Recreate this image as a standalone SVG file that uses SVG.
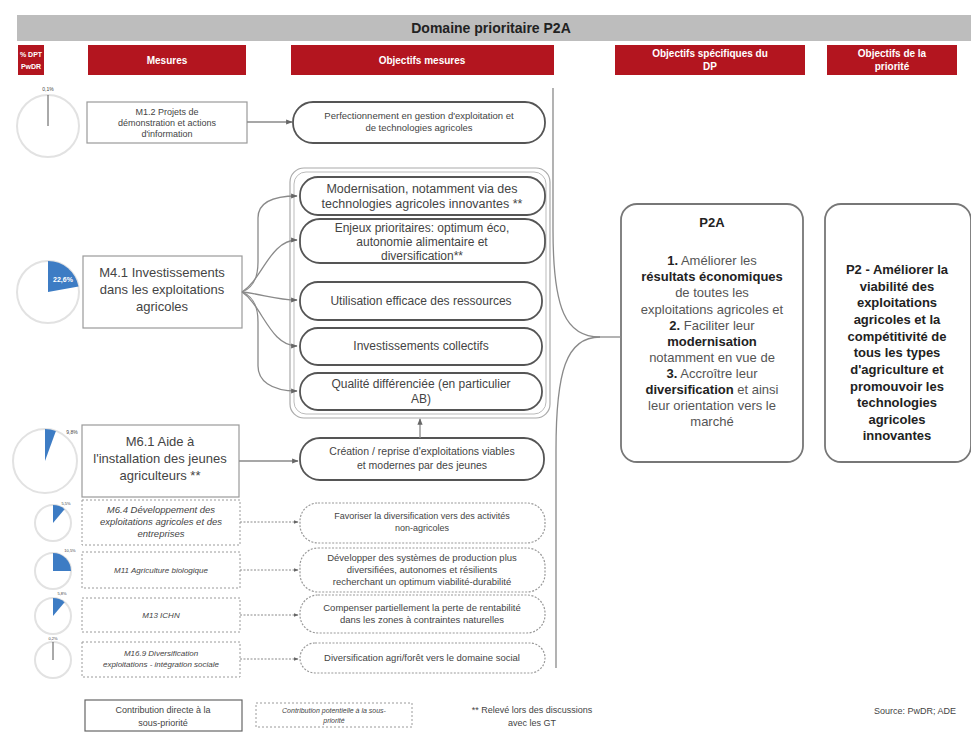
<svg xmlns="http://www.w3.org/2000/svg" width="971" height="733" viewBox="0 0 971 733">
  <defs>
    <marker id="arr" viewBox="0 0 10 10" refX="9" refY="5" markerWidth="5" markerHeight="5" orient="auto">
      <path d="M0,1 L10,5 L0,9 Z" fill="#666"/>
    </marker>
  </defs>
  <style>
    text { font-family: "Liberation Sans", Arial, sans-serif; }
    .hdr { fill: #B3151F; }
    .hdrt { fill: #fff; font-weight: bold; font-size: 10px; text-anchor: middle; }
    .pie { fill: #fff; stroke: #e2e2e2; stroke-width: 2; }
    .wedge { fill: #3D7CC4; }
    .plab { font-size: 5px; fill: #444; text-anchor: middle; }
    .meas { fill: #fff; stroke: #9a9a9a; stroke-width: 1.2; }
    .measd { fill: #fff; stroke: #9a9a9a; stroke-width: 1; stroke-dasharray: 2 2; }
    .mt { fill: #444; text-anchor: middle; }
    .obj { fill: #fff; stroke: #555; stroke-width: 1.8; }
    .objd { fill: #fff; stroke: #999; stroke-width: 1.2; stroke-dasharray: 2 1.5; }
    .ot { fill: #444; text-anchor: middle; }
    .con { fill: none; stroke: #8a8a8a; stroke-width: 1.3; }
    .cond { fill: none; stroke: #8a8a8a; stroke-width: 1; stroke-dasharray: 2 1.5; }
    .big { fill: #fff; stroke: #777; stroke-width: 1.8; }
    .pt { font-size: 13px; fill: #555; text-anchor: middle; }
    .pt tspan.b { font-weight: bold; fill: #222; }
    .p2 { font-size: 13px; font-weight: bold; fill: #222; text-anchor: middle; }
  </style>

  <!-- title bar -->
  <g id="title">
    <rect x="17" y="15" width="954" height="26" fill="#BDBDBD"/>
    <text x="491" y="33" font-size="14" font-weight="bold" fill="#222" text-anchor="middle">Domaine prioritaire P2A</text>
  </g>

  <!-- column headers -->
  <g id="headers">
    <rect class="hdr" x="18" y="45" width="26" height="30"/>
    <text class="hdrt" x="31" y="57" style="font-size:7px">% DPT</text>
    <text class="hdrt" x="31" y="69" style="font-size:7px">PwDR</text>
    <rect class="hdr" x="88" y="45" width="158" height="30"/>
    <text class="hdrt" x="167" y="64">Mesures</text>
    <rect class="hdr" x="291" y="45" width="263" height="30"/>
    <text class="hdrt" x="422" y="64">Objectifs mesures</text>
    <rect class="hdr" x="615" y="45" width="190" height="30"/>
    <text class="hdrt" x="710" y="57">Objectifs spécifiques du</text>
    <text class="hdrt" x="710" y="70">DP</text>
    <rect class="hdr" x="827" y="45" width="130" height="30"/>
    <text class="hdrt" x="892" y="57">Objectifs de la</text>
    <text class="hdrt" x="892" y="70">priorité</text>
  </g>

  <!-- budget share pies -->
  <g id="pies">
    <circle class="pie" cx="48" cy="126" r="31"/>
    <line x1="48" y1="126" x2="48" y2="95" stroke="#555" stroke-width="1"/>
    <text class="plab" x="48" y="91">0,1%</text>

    <circle class="pie" cx="48" cy="292" r="31"/>
    <path class="wedge" d="M48,292 L48,261 A31,31 0 0 1 78.5,286.6 Z"/>
    <text x="63" y="282" font-size="7" font-weight="bold" fill="#fff" text-anchor="middle">22,6%</text>

    <circle class="pie" cx="45" cy="461" r="32"/>
    <path class="wedge" d="M45,461 L45,429 A32,32 0 0 1 55.9,430.9 Z"/>
    <text class="plab" x="72" y="434">9,8%</text>

    <circle class="pie" cx="53" cy="523" r="18"/>
    <path class="wedge" d="M53,523 L53,505 A18,18 0 0 1 64.6,509.2 Z"/>
    <text class="plab" x="66" y="505" style="font-size:4px">5,5%</text>

    <circle class="pie" cx="53" cy="571" r="18"/>
    <path class="wedge" d="M53,571 L53,553 A18,18 0 0 1 71,571 Z"/>
    <text class="plab" x="70" y="552" style="font-size:4px">10,5%</text>

    <circle class="pie" cx="53" cy="616" r="18"/>
    <path class="wedge" d="M53,616 L53,598 A18,18 0 0 1 64.6,602.2 Z"/>
    <text class="plab" x="62" y="595" style="font-size:4px">5,8%</text>

    <circle class="pie" cx="53" cy="660" r="18"/>
    <line x1="53" y1="660" x2="53" y2="642" stroke="#555" stroke-width="1"/>
    <text class="plab" x="53" y="640" style="font-size:4px">0,2%</text>
  </g>

  <!-- measures -->
  <g id="m12">
    <rect class="meas" x="87" y="102" width="160" height="41"/>
    <text class="mt" font-size="9" x="167" y="115">M1.2 Projets de</text>
    <text class="mt" font-size="9" x="167" y="126">démonstration et actions</text>
    <text class="mt" font-size="9" x="167" y="137">d'information</text>
  </g>
  <g id="m41">
    <rect class="meas" x="83" y="256" width="159" height="72"/>
    <text class="mt" font-size="13" x="162" y="277">M4.1 Investissements</text>
    <text class="mt" font-size="13" x="162" y="294">dans les exploitations</text>
    <text class="mt" font-size="13" x="162" y="311">agricoles</text>
  </g>
  <g id="m61">
    <rect class="meas" x="82" y="425" width="157" height="72"/>
    <text class="mt" font-size="13" x="160" y="446">M6.1 Aide à</text>
    <text class="mt" font-size="13" x="160" y="463">l'installation des jeunes</text>
    <text class="mt" font-size="13" x="160" y="480">agriculteurs **</text>
  </g>
  <g id="m64">
    <rect class="measd" x="82" y="500" width="158" height="45"/>
    <text class="mt" font-size="9.5" font-style="italic" x="161" y="513">M6.4 Développement des</text>
    <text class="mt" font-size="9.5" font-style="italic" x="161" y="525">exploitations agricoles et des</text>
    <text class="mt" font-size="9.5" font-style="italic" x="161" y="537">entreprises</text>
  </g>
  <g id="m11">
    <rect class="measd" x="82" y="552" width="158" height="36"/>
    <text class="mt" font-size="8" font-style="italic" x="161" y="573">M11 Agriculture biologique</text>
  </g>
  <g id="m13">
    <rect class="measd" x="82" y="598" width="158" height="34"/>
    <text class="mt" font-size="8" font-style="italic" x="161" y="618">M13 ICHN</text>
  </g>
  <g id="m169">
    <rect class="measd" x="82" y="642" width="158" height="35"/>
    <text class="mt" font-size="8" font-style="italic" x="161" y="656">M16.9 Diversification</text>
    <text class="mt" font-size="8" font-style="italic" x="161" y="667">exploitations - intégration sociale</text>
  </g>

  <!-- measure objectives -->
  <g id="o-perf">
    <rect class="obj" x="293" y="102" width="252" height="41" rx="20"/>
    <text class="ot" font-size="9.5" x="419" y="119">Perfectionnement en gestion d'exploitation et</text>
    <text class="ot" font-size="9.5" x="419" y="131">de technologies agricoles</text>
  </g>
  <g id="o-group">
    <rect x="290" y="168" width="260" height="250" rx="14" fill="#fff" stroke="#aaa" stroke-width="1.2"/>
    <rect x="294" y="172" width="252" height="242" rx="12" fill="none" stroke="#bbb" stroke-width="1"/>
  </g>
  <g id="o-modern">
    <rect class="obj" x="300" y="177" width="245" height="38" rx="18"/>
    <text class="ot" font-size="12.5" x="422" y="193">Modernisation, notamment via des</text>
    <text class="ot" font-size="12.5" x="422" y="208">technologies agricoles innovantes **</text>
  </g>
  <g id="o-enjeux">
    <rect class="obj" x="300" y="219" width="245" height="44" rx="20"/>
    <text class="ot" font-size="12" x="422" y="232">Enjeux prioritaires: optimum éco,</text>
    <text class="ot" font-size="12" x="422" y="246">autonomie alimentaire et</text>
    <text class="ot" font-size="12" x="422" y="260">diversification**</text>
  </g>
  <g id="o-ressources">
    <rect class="obj" x="300" y="282" width="242" height="38" rx="18"/>
    <text class="ot" font-size="12" x="421" y="305">Utilisation efficace des ressources</text>
  </g>
  <g id="o-collectifs">
    <rect class="obj" x="300" y="328" width="242" height="37" rx="18"/>
    <text class="ot" font-size="12" x="421" y="350">Investissements collectifs</text>
  </g>
  <g id="o-qualite">
    <rect class="obj" x="300" y="373" width="242" height="37" rx="18"/>
    <text class="ot" font-size="12" x="421" y="388">Qualité différenciée (en particulier</text>
    <text class="ot" font-size="12" x="421" y="403">AB)</text>
  </g>
  <g id="o-creation">
    <rect class="obj" x="300" y="438" width="244" height="42" rx="20"/>
    <text class="ot" font-size="10.5" x="422" y="455">Création / reprise d'exploitations viables</text>
    <text class="ot" font-size="10.5" x="422" y="469">et modernes par des jeunes</text>
  </g>
  <g id="o-favoriser">
    <rect class="objd" x="300" y="503" width="245" height="40" rx="18"/>
    <text class="ot" font-size="9" x="422" y="519">Favoriser la diversification vers des activités</text>
    <text class="ot" font-size="9" x="422" y="531">non-agricoles</text>
  </g>
  <g id="o-developper">
    <rect class="objd" x="300" y="548" width="245" height="44" rx="18"/>
    <text class="ot" font-size="9.5" x="422" y="561">Développer des systèmes de production plus</text>
    <text class="ot" font-size="9.5" x="422" y="573">diversifiées, autonomes et résilients</text>
    <text class="ot" font-size="9.5" x="422" y="585">recherchant un optimum viabilité-durabilité</text>
  </g>
  <g id="o-compenser">
    <rect class="objd" x="300" y="595" width="245" height="38" rx="18"/>
    <text class="ot" font-size="9.5" x="422" y="611">Compenser partiellement la perte de rentabilité</text>
    <text class="ot" font-size="9.5" x="422" y="623">dans les zones à contraintes naturelles</text>
  </g>
  <g id="o-social">
    <rect class="objd" x="300" y="643" width="245" height="30" rx="15"/>
    <text class="ot" font-size="9.5" x="422" y="661">Diversification agri/forêt vers le domaine social</text>
  </g>

  <!-- specific and priority objectives -->
  <g id="p2a">
    <rect class="big" x="621" y="204" width="182" height="258" rx="16"/>
    <text x="712" y="227" font-size="13" font-weight="bold" fill="#222" text-anchor="middle">P2A</text>
    <text class="pt" x="712" y="265"><tspan class="b">1.</tspan> Améliorer les</text>
    <text class="pt" x="712" y="281"><tspan class="b">résultats économiques</tspan></text>
    <text class="pt" x="712" y="297">de toutes les</text>
    <text class="pt" x="712" y="314">exploitations agricoles et</text>
    <text class="pt" x="712" y="330"><tspan class="b">2.</tspan> Faciliter leur</text>
    <text class="pt" x="712" y="346"><tspan class="b">modernisation</tspan></text>
    <text class="pt" x="712" y="362">notamment en vue de</text>
    <text class="pt" x="712" y="378"><tspan class="b">3.</tspan> Accroître leur</text>
    <text class="pt" x="712" y="394"><tspan class="b">diversification</tspan> et ainsi</text>
    <text class="pt" x="712" y="410">leur orientation vers le</text>
    <text class="pt" x="712" y="426">marché</text>
  </g>
  <g id="p2">
    <rect class="big" x="825" y="204" width="146" height="258" rx="16"/>
    <text class="p2" x="897" y="274">P2 - Améliorer la</text>
    <text class="p2" x="897" y="291">viabilité des</text>
    <text class="p2" x="897" y="307">exploitations</text>
    <text class="p2" x="897" y="324">agricoles et la</text>
    <text class="p2" x="897" y="341">compétitivité de</text>
    <text class="p2" x="897" y="357">tous les types</text>
    <text class="p2" x="897" y="374">d'agriculture et</text>
    <text class="p2" x="897" y="391">promouvoir les</text>
    <text class="p2" x="897" y="407">technologies</text>
    <text class="p2" x="897" y="424">agricoles</text>
    <text class="p2" x="897" y="440">innovantes</text>
  </g>

  <!-- connectors -->
  <g id="connectors">
    <path class="con" d="M247,122 L292,122" marker-end="url(#arr)"/>
    <path class="con" d="M242,292 C252,288 258,280 258,262 L258,218 C258,204 270,196 297,196" marker-end="url(#arr)"/>
    <path class="con" d="M242,292 C262,280 270,240 297,240" marker-end="url(#arr)"/>
    <path class="con" d="M242,292 C262,294 276,300 297,300" marker-end="url(#arr)"/>
    <path class="con" d="M242,292 C262,305 270,346 297,346" marker-end="url(#arr)"/>
    <path class="con" d="M242,292 C252,296 258,304 258,322 L258,366 C258,380 270,391 297,391" marker-end="url(#arr)"/>
    <path class="con" d="M239,461 L298,461" marker-end="url(#arr)"/>
    <path class="con" d="M420,438 L420,419" marker-end="url(#arr)"/>
    <path class="cond" d="M240,522 L298,522" marker-end="url(#arr)"/>
    <path class="cond" d="M240,570 L298,570" marker-end="url(#arr)"/>
    <path class="cond" d="M240,615 L298,615" marker-end="url(#arr)"/>
    <path class="cond" d="M240,659 L298,659" marker-end="url(#arr)"/>
    <!-- brace gathering all measure objectives into P2A -->
    <path class="con" d="M553,88 L553,230 C553,310 566,337 600,337"/>
    <path class="con" d="M600,337 C566,337 556,372 556,450 L556,668"/>
    <path class="con" d="M600,337 L621,337"/>
  </g>

  <!-- legend -->
  <g id="legend">
    <rect x="85" y="700" width="157" height="31" fill="#fff" stroke="#666" stroke-width="1.2"/>
    <text class="mt" font-size="9" x="163" y="713">Contribution directe à la</text>
    <text class="mt" font-size="9" x="163" y="726">sous-priorité</text>
    <rect class="measd" x="256" y="703" width="156" height="24"/>
    <text class="mt" font-size="7" font-style="italic" x="334" y="713">Contribution potentielle à la sous-</text>
    <text class="mt" font-size="7" font-style="italic" x="334" y="723">priorité</text>
    <text class="mt" font-size="9" x="532" y="713">** Relevé lors des discussions</text>
    <text class="mt" font-size="9" x="532" y="726">avec les GT</text>
    <text font-size="9" fill="#444" x="874" y="714">Source: PwDR; ADE</text>
  </g>
</svg>
